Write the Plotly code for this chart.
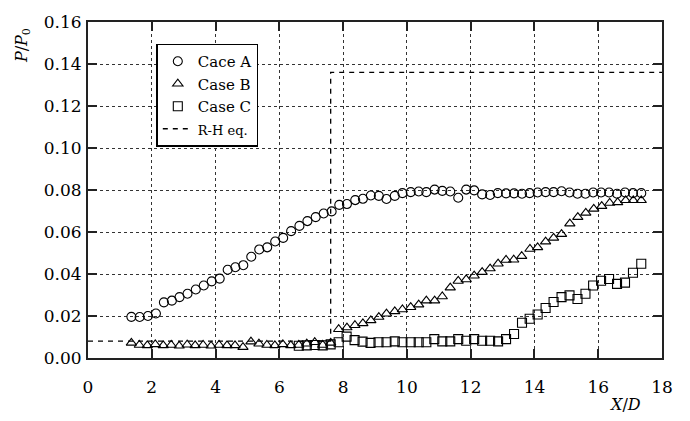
import plotly.graph_objects as go

# Case A (circles)
xa = [1.36, 1.62, 1.88, 2.13, 2.38, 2.63, 2.87, 3.12, 3.38, 3.63, 3.88, 4.13, 4.38, 4.62, 4.87,
      5.12, 5.37, 5.62, 5.87, 6.12, 6.37, 6.63, 6.88, 7.14, 7.39, 7.64, 7.88, 8.12, 8.38, 8.62,
      8.87, 9.12, 9.36, 9.62, 9.86, 10.12, 10.37, 10.61, 10.87, 11.11, 11.36, 11.61, 11.86, 12.11,
      12.36, 12.61, 12.85, 13.11, 13.36, 13.61, 13.85, 14.10, 14.35, 14.60, 14.85, 15.10, 15.35,
      15.60, 15.84, 16.09, 16.34, 16.59, 16.84, 17.09, 17.35]
ya = [0.0196, 0.0195, 0.0200, 0.0212, 0.0265, 0.0273, 0.0290, 0.0306, 0.0326, 0.0345, 0.0365,
      0.0378, 0.0420, 0.0432, 0.0442, 0.0482, 0.0517, 0.0527, 0.0555, 0.0572, 0.0604, 0.0629,
      0.0652, 0.0671, 0.0688, 0.0698, 0.0729, 0.0733, 0.0752, 0.0758, 0.0774, 0.0772, 0.0757,
      0.0772, 0.0785, 0.0790, 0.0793, 0.0790, 0.0802, 0.0796, 0.0793, 0.0763, 0.0802, 0.0798,
      0.0779, 0.0776, 0.0785, 0.0784, 0.0784, 0.0782, 0.0785, 0.0788, 0.0790, 0.0790, 0.0794,
      0.0788, 0.0782, 0.0782, 0.0788, 0.0788, 0.0788, 0.0782, 0.0788, 0.0785, 0.0785]

# Case B (triangles)
xb = [1.36, 1.61, 1.86, 2.11, 2.36, 2.61, 2.86, 3.11, 3.36, 3.61, 3.86, 4.11, 4.36, 4.61, 4.86,
      5.11, 5.36, 5.61, 5.86, 6.11, 6.36, 6.61, 6.86, 7.11, 7.36, 7.61, 7.86, 8.12, 8.37, 8.62,
      8.87, 9.12, 9.36, 9.62, 9.86, 10.12, 10.37, 10.61, 10.87, 11.11, 11.36, 11.61, 11.86, 12.11,
      12.36, 12.61, 12.86, 13.11, 13.35, 13.60, 13.86, 14.10, 14.35, 14.60, 14.85, 15.11, 15.36,
      15.61, 15.86, 16.11, 16.36, 16.61, 16.86, 17.10, 17.35]
yb = [0.0072, 0.0062, 0.0060, 0.0065, 0.0060, 0.0062, 0.0058, 0.0063, 0.0060, 0.0062, 0.0058,
      0.0062, 0.0060, 0.0060, 0.0052, 0.0078, 0.0068, 0.0062, 0.0060, 0.0065, 0.0060, 0.0062,
      0.0068, 0.0075, 0.0062, 0.0072, 0.0137, 0.0145, 0.0156, 0.0165, 0.0179, 0.0195, 0.0211,
      0.0222, 0.0231, 0.0242, 0.0254, 0.0273, 0.0273, 0.0293, 0.0335, 0.0367, 0.0374, 0.0392,
      0.0409, 0.0426, 0.0449, 0.0467, 0.0468, 0.0485, 0.0519, 0.0527, 0.0554, 0.0572, 0.0590,
      0.0640, 0.0671, 0.0691, 0.0710, 0.0723, 0.0738, 0.0741, 0.0751, 0.0751, 0.0751]

# Case C (squares)
xc = [6.61, 6.86, 7.11, 7.36, 7.61, 7.86, 8.11, 8.36, 8.61, 8.86, 9.11, 9.36, 9.62, 9.86, 10.12,
      10.37, 10.61, 10.86, 11.11, 11.36, 11.61, 11.86, 12.11, 12.36, 12.61, 12.86, 13.11, 13.36,
      13.61, 13.85, 14.10, 14.35, 14.60, 14.85, 15.10, 15.35, 15.60, 15.84, 16.09, 16.34, 16.59,
      16.84, 17.09, 17.35]
yc = [0.0058, 0.0060, 0.0062, 0.0060, 0.0065, 0.0075, 0.0102, 0.0085, 0.0078, 0.0072, 0.0075,
      0.0075, 0.0079, 0.0075, 0.0075, 0.0075, 0.0075, 0.0090, 0.0079, 0.0079, 0.0090, 0.0082,
      0.0090, 0.0082, 0.0082, 0.0079, 0.0090, 0.0114, 0.0168, 0.0187, 0.0207, 0.0238, 0.0267,
      0.0290, 0.0298, 0.0281, 0.0306, 0.0345, 0.0368, 0.0376, 0.0353, 0.0359, 0.0406, 0.0449]

# R-H equation line
xrh = [0, 7.61, 7.61, 18]
yrh = [0.008, 0.008, 0.136, 0.136]

x_ticks = [0, 2, 4, 6, 8, 10, 12, 14, 16, 18]
y_ticks = [0.00, 0.02, 0.04, 0.06, 0.08, 0.10, 0.12, 0.14, 0.16]

FONT = "DejaVu Serif"
mk_line = dict(color="black", width=1.1)

fig = go.Figure()
fig.add_trace(go.Scatter(x=xa, y=ya, mode="markers", name="Cace A",
                         marker=dict(symbol="circle-open", size=9, line=mk_line, color="black")))
fig.add_trace(go.Scatter(x=xb, y=yb, mode="markers", name="Case B",
                         marker=dict(symbol="triangle-up-open", size=9, line=mk_line, color="black")))
fig.add_trace(go.Scatter(x=xc, y=yc, mode="markers", name="Case C",
                         marker=dict(symbol="square-open", size=9, line=mk_line, color="black")))
fig.add_trace(go.Scatter(x=xrh, y=yrh, mode="lines",
                         name="<span style='font-size:13px'>R-H eq.</span>",
                         line=dict(color="black", width=1.3, dash="5px,5px")))

axis_common = dict(showline=True, linecolor="#222", linewidth=2, mirror="ticks",
                   ticks="inside", ticklen=9, tickwidth=1.5, tickcolor="#222",
                   showgrid=True, gridcolor="#333", gridwidth=1, griddash="dot",
                   zeroline=False, tickfont=dict(family=FONT, size=17, color="black"))

fig.update_xaxes(range=[0, 18], tickvals=x_ticks, ticktext=[str(v) for v in x_ticks],
                 ticklabelstandoff=13, **axis_common)
fig.update_yaxes(range=[0, 0.16], tickvals=y_ticks, ticktext=[f"{v:.2f}" for v in y_ticks],
                 ticklabelstandoff=1, **axis_common)

fig.add_annotation(text="<i>P</i>/<i>P</i><sub>0</sub>", xref="paper", yref="paper",
                   x=-0.114, y=0.93, textangle=-90, showarrow=False,
                   font=dict(family=FONT, size=16, color="black"),
                   xanchor="center", yanchor="middle")
fig.add_annotation(text="<i>X</i>/<i>D</i>", xref="paper", yref="paper",
                   x=0.936, y=-0.139, showarrow=False,
                   font=dict(family=FONT, size=16, color="black"),
                   xanchor="center", yanchor="middle")

fig.update_layout(
    width=690, height=421,
    margin=dict(l=88, r=28, t=16, b=63),
    paper_bgcolor="white", plot_bgcolor="white",
    font=dict(family=FONT, size=16, color="black"),
    showlegend=True,
    legend=dict(x=0.119, y=0.936, xanchor="left", yanchor="top",
                bgcolor="white", bordercolor="black", borderwidth=1.5,
                font=dict(family=FONT, size=15, color="black"),
                itemwidth=30, tracegroupgap=0),
)

fig.write_html("out.html")
